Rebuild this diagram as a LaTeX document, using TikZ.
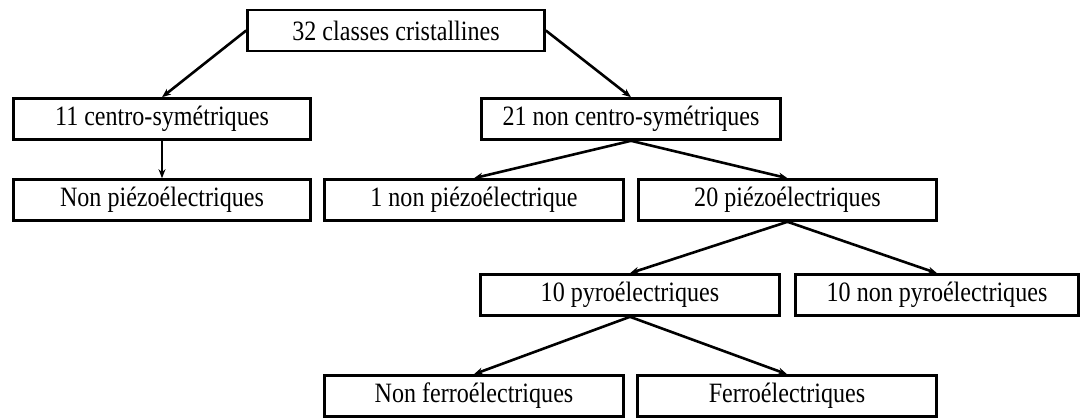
\documentclass[tikz,border=0pt]{standalone}
\usepackage{fontspec}
\setmainfont{Liberation Serif}
\usetikzlibrary{arrows.meta}
\newcommand\boxtxt[1]{\scalebox{0.86}[1]{#1}}
\begin{document}
\begin{tikzpicture}[x=1pt,y=-1pt,
  box/.style={draw=black,line width=2.6pt,minimum height=41pt,inner sep=0pt,
    font=\fontsize{28}{32}\selectfont},
  conn/.style={line width=2.6pt,-{Stealth[length=9pt,width=7pt]}}]
\useasboundingbox (0,0) rectangle (1091,419);
\node[box,minimum width=297pt] (b1) at (396,30.5) {\boxtxt{32 classes cristallines}};
\node[box,minimum width=297pt] (b2) at (162,119) {\boxtxt{11 centro-symétriques}};
\node[box,minimum width=299pt] (b3) at (631,119) {\boxtxt{21 non centro-symétriques}};
\node[box,minimum width=297pt] (b4) at (162,200) {\boxtxt{Non piézoélectriques}};
\node[box,minimum width=299pt] (b5) at (474,200) {\boxtxt{1 non piézoélectrique}};
\node[box,minimum width=298pt] (b6) at (787.5,200) {\boxtxt{20 piézoélectriques}};
\node[box,minimum width=299pt] (b7) at (630,295) {\boxtxt{10 pyroélectriques}};
\node[box,minimum width=283pt] (b8) at (937,295) {\boxtxt{10 non pyroélectriques}};
\node[box,minimum width=299pt] (b9) at (474,396) {\boxtxt{Non ferroélectriques}};
\node[box,minimum width=299pt] (b10) at (787,396) {\boxtxt{Ferroélectriques}};
\draw[conn] (b1.west) -- (b2.north);
\draw[conn] (b1.east) -- (b3.north);
\draw[conn] (b2.south) -- (b4.north);
\draw[conn] (b3.south) -- (b5.north);
\draw[conn] (b3.south) -- (b6.north);
\draw[conn] (b6.south) -- (b7.north);
\draw[conn] (b6.south) -- (b8.north);
\draw[conn] (b7.south) -- (b9.north);
\draw[conn] (b7.south) -- (b10.north);
\end{tikzpicture}
\end{document}
